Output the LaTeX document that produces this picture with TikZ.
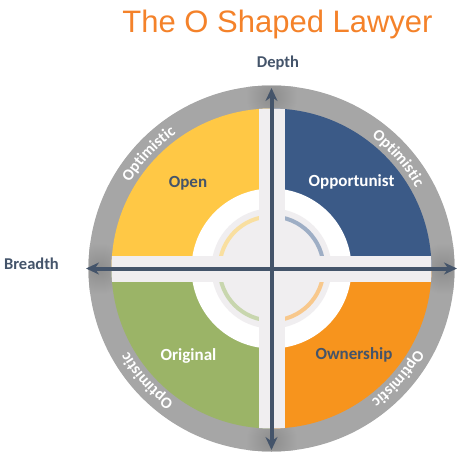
\documentclass[tikz,border=0pt]{standalone}
\usepackage{fontspec}
\setmainfont{Carlito}
\newfontfamily\titlefont{Liberation Sans}
\usetikzlibrary{arrows.meta,decorations.text}
\definecolor{ringgray}{HTML}{A6A6A6}
\definecolor{bandgray}{HTML}{F0EEF0}
\definecolor{axisblue}{HTML}{44546A}
\definecolor{titleorange}{HTML}{F4822A}
\definecolor{openyellow}{HTML}{FFC845}
\definecolor{oppblue}{HTML}{3B5A87}
\definecolor{origgreen}{HTML}{9BB467}
\definecolor{ownorange}{HTML}{F7941D}
\definecolor{paleyellow}{HTML}{F9DFA0}
\definecolor{paleblue}{HTML}{9EAEC5}
\definecolor{palegreen}{HTML}{C8D6AE}
\definecolor{paleorange}{HTML}{F8C88C}
\begin{document}
\begin{tikzpicture}[x=1pt,y=1pt,
	axisarrow/.style={line width=4pt, draw=axisblue, {Stealth[length=13pt,width=12pt]}-{Stealth[length=13pt,width=12pt]}},
	quadtext/.style={font=\fontsize{17}{17}\selectfont\bfseries, anchor=base},
	ringtext/.style={decorate, decoration={text along path, text align=center, text color=white,
		text={|\fontsize{16}{16}\selectfont\bfseries|Optimistic}}}]
	\useasboundingbox (-271.5,-184.5) rectangle (196.5,268.5);
	\fill[ringgray] (0,0) circle (183);
	\begin{scope}[even odd rule]
		\clip (0,0) circle (183) (0,0) circle (160);
		\foreach \a in {0,90,180,270}
			\shade[inner color=black!45, outer color=ringgray] (\a:172) circle (26);
	\end{scope}
	\fill[oppblue] (0,0) -- (0:160) arc[start angle=0, end angle=90, radius=160] -- cycle;
	\fill[openyellow] (0,0) -- (90:160) arc[start angle=90, end angle=180, radius=160] -- cycle;
	\fill[origgreen] (0,0) -- (180:160) arc[start angle=180, end angle=270, radius=160] -- cycle;
	\fill[ownorange] (0,0) -- (270:160) arc[start angle=270, end angle=360, radius=160] -- cycle;
	\fill[white] (0,0) circle (80);
	\fill[bandgray] (0,0) circle (60);
	\draw[line width=4pt, paleblue] (0:52) arc[start angle=0, end angle=90, radius=52];
	\draw[line width=4pt, paleyellow] (90:52) arc[start angle=90, end angle=180, radius=52];
	\draw[line width=4pt, palegreen] (180:52) arc[start angle=180, end angle=270, radius=52];
	\draw[line width=4pt, paleorange] (270:52) arc[start angle=270, end angle=360, radius=52];
	\begin{scope}
		\clip (0,0) circle (160);
		\fill[bandgray] (-170,-13) rectangle (170,13);
		\fill[bandgray] (-13,-170) rectangle (13,170);
	\end{scope}
	\coordinate (top) at (0,180.5);
	\coordinate (bottom) at (0,-181.5);
	\coordinate (left) at (-185.5,0);
	\coordinate (right) at (185.5,0);
	\draw[axisarrow] (bottom) -- (top);
	\draw[axisarrow] (left) -- (right);
	\node[anchor=base, text=titleorange, font=\titlefont\fontsize{31}{31}\selectfont] (title) at (6,235.5) {The O Shaped Lawyer};
	\node[quadtext, text=axisblue, font=\fontsize{16.5}{16.5}\selectfont\bfseries] (depth) at (6.5,200.5) {Depth};
	\node[quadtext, anchor=base west, text=axisblue, font=\fontsize{16.5}{16.5}\selectfont\bfseries] (breadth) at (-271,-0.5) {Breadth};
	\node[quadtext, text=axisblue] (open) at (-83.5,81.5) {Open};
	\node[quadtext, text=white] (opportunist) at (80,82.5) {Opportunist};
	\node[quadtext, text=white] (original) at (-83,-91.5) {Original};
	\node[quadtext, text=axisblue] (ownership) at (82.5,-90.5) {Ownership};
	\path[ringtext] (167:165.5) arc[start angle=167, end angle=107, radius=165.5];
	\path[ringtext] (71:165.5) arc[start angle=71, end angle=11, radius=165.5];
	\path[ringtext] (252:165.5) arc[start angle=252, end angle=192, radius=165.5];
	\path[ringtext] (-11:165.5) arc[start angle=-11, end angle=-71, radius=165.5];
\end{tikzpicture}
\end{document}
